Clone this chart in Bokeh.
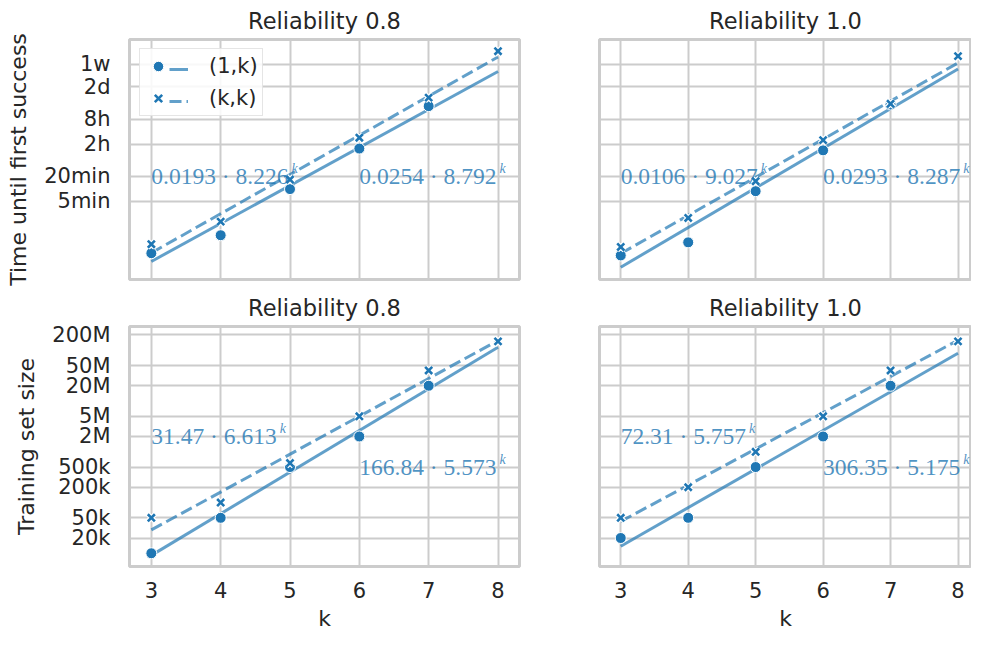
from bokeh.plotting import figure
from bokeh.layouts import gridplot
from bokeh.models import FixedTicker, Legend, LegendItem, Range1d
from bokeh.core.properties import value
from bokeh.embed import file_html
from bokeh.resources import INLINE

# ---------------- data ----------------
k_ticks = [3, 4, 5, 6, 7, 8]
k_one = [3, 4, 5, 6, 7]          # (1,k) experiments
k_all = [3, 4, 5, 6, 7, 8]       # (k,k) experiments
k_fit = [3, 8]

titles = ["Reliability 0.8", "Reliability 1.0"]

# time until first success (seconds)
time_1k_r08 = [17, 46, 595, 5640, 59300]
time_kk_r08 = [28, 98, 1010, 10300, 95000, 1250000]
time_1k_r10 = [15, 31, 530, 5100, 65000]
time_kk_r10 = [24, 120, 920, 9000, 67500, 950000]

# training set size
size_1k_r08 = [10000, 50000, 500000, 2000000, 20000000]
size_kk_r08 = [50000, 100000, 600000, 5000000, 40000000, 150000000]
size_1k_r10 = [20000, 50000, 500000, 2000000, 20000000]
size_kk_r10 = [50000, 200000, 1000000, 5000000, 40000000, 150000000]

# fitted exponentials a * b^k  (solid = (1,k), dashed = (k,k))
time_fit_1k_a = [0.0193, 0.0106]
time_fit_1k_b = [8.226, 9.027]
time_fit_kk_a = [0.0254, 0.0293]
time_fit_kk_b = [8.792, 8.287]
size_fit_1k_a = [31.47, 72.31]
size_fit_1k_b = [6.613, 5.757]
size_fit_kk_a = [166.84, 306.35]
size_fit_kk_b = [5.573, 5.175]

time_ticks = [300, 1200, 7200, 28800, 172800, 604800]
time_tick_labels = ["5min", "20min", "2h", "8h", "2d", "1w"]
size_ticks = [2e4, 5e4, 2e5, 5e5, 2e6, 5e6, 2e7, 5e7, 2e8]
size_tick_labels = ["20k", "50k", "200k", "500k", "2M", "5M", "20M", "50M", "200M"]

# ---------------- style ----------------
BLUE = "#1f77b4"
GRID = "#cccccc"
TXT = "#262626"
SANS = "DejaVu Sans"
SERIF = "Liberation Serif"
FORM_SIZE = 23.5
SUP_SIZE = 14


def serif_width(s, size):
    w = 0.0
    for c in s:
        w += 0.5 if c.isdigit() else 0.25
    return w * size


def make_panel(col, row, y_range, ticks, tick_labels, ylabel,
               x1, y1, xk, yk, fa1, fb1, fak, fbk, lab_y1, lab_yk):
    left = col == 0
    bottom = row == 1
    width = 523 if left else 448
    height = 346 if bottom else 287
    p = figure(width=width, height=height, y_axis_type="log",
               x_range=Range1d(2.685, 8.31 if left else 8.2),
               y_range=Range1d(*y_range),
               output_backend="svg", toolbar_location=None,
               min_border_left=129 if left else 76,
               min_border_right=4 if left else 0,
               min_border_top=38,
               min_border_bottom=67 if bottom else 8,
               background_fill_color="white", border_fill_color="white")
    p.title.text = titles[col]
    p.title.text_font = SANS
    p.title.text_font_size = "22.5px"
    p.title.text_font_style = "normal"
    p.title.text_color = TXT
    p.title.align = "center"
    p.title.standoff = 11
    p.outline_line_color = GRID
    p.outline_line_width = 3

    xt = FixedTicker(ticks=k_ticks)
    yt = FixedTicker(ticks=ticks)
    p.xaxis.ticker = xt
    p.yaxis.ticker = yt
    p.xgrid.ticker = xt
    p.ygrid.ticker = yt
    for g in (p.xgrid, p.ygrid):
        g.grid_line_color = GRID
        g.grid_line_width = 2
    for ax in (p.xaxis, p.yaxis):
        ax.axis_line_color = None
        ax.major_tick_line_color = None
        ax.minor_tick_line_color = None
        ax.major_tick_out = 0
        ax.major_tick_in = 0
        ax.minor_tick_out = 0
        ax.minor_tick_in = 0
        ax.major_label_text_font = SANS
        ax.major_label_text_font_size = "21px"
        ax.major_label_text_color = TXT
        ax.axis_label_text_font = SANS
        ax.axis_label_text_font_size = "22px"
        ax.axis_label_text_font_style = "normal"
        ax.axis_label_text_color = TXT
    p.yaxis.major_label_overrides = {t: l for t, l in zip(ticks, tick_labels)}
    p.yaxis.major_label_standoff = 19
    p.yaxis.axis_label_standoff = 10
    p.xaxis.major_label_standoff = 15
    p.xaxis.axis_label_standoff = 5
    if left:
        p.yaxis.axis_label = ylabel
    else:
        p.yaxis.visible = False
    if bottom:
        p.xaxis.axis_label = "k"
    else:
        p.xaxis.visible = False

    # fit lines
    l1 = p.line(k_fit, [fa1 * fb1 ** k for k in k_fit], line_color=BLUE,
                line_alpha=0.7, line_width=3)
    lk = p.line(k_fit, [fak * fbk ** k for k in k_fit], line_color=BLUE,
                line_alpha=0.7, line_width=3, line_dash="12 5")
    # markers
    d1 = p.scatter(x1, y1, marker="circle", size=11, fill_color=BLUE,
                   line_color="white", line_width=1)
    p.scatter(xk, yk, marker="x", size=10, line_color="white", line_width=5)
    dk = p.scatter(xk, yk, marker="x", size=10, line_color=BLUE, line_width=2.6)

    # formula annotations
    for kx, ly, a, b in ((3, lab_y1, fa1, fb1), (6, lab_yk, fak, fbk)):
        s = f"{a} · {b}"
        p.text([kx], [ly], text=[s], text_font=value(SERIF),
               text_font_size=f"{FORM_SIZE}px", text_color=BLUE, text_alpha=0.8,
               text_align="left", text_baseline="alphabetic")
        p.text([kx], [ly], text=["k"], text_font=value(SERIF),
               text_font_size=f"{SUP_SIZE}px", text_font_style="italic",
               text_color=BLUE, text_alpha=0.8, text_align="left",
               text_baseline="alphabetic",
               x_offset=serif_width(s, FORM_SIZE) + 5, y_offset=-8)

    if col == 0 and row == 0:
        leg_a = Legend(items=[LegendItem(label="(1,k)", renderers=[d1]),
                              LegendItem(label="(k,k)", renderers=[dk])],
                       location=(10, 163), orientation="vertical",
                       padding=4, margin=0, spacing=6,
                       glyph_width=28, glyph_height=26, label_height=26,
                       label_standoff=37,
                       label_text_font=SANS, label_text_font_size="21px",
                       label_text_color=TXT,
                       border_line_color=GRID, border_line_width=1.5,
                       background_fill_color="white", background_fill_alpha=0.85)
        leg_b = Legend(items=[LegendItem(label=" ", renderers=[l1]),
                              LegendItem(label=" ", renderers=[lk])],
                       location=(40, 165), orientation="vertical",
                       padding=4, margin=0, spacing=6,
                       glyph_width=19, glyph_height=26, label_height=26,
                       label_standoff=2,
                       label_text_font=SANS, label_text_font_size="21px",
                       border_line_color=None, background_fill_alpha=0)
        p.add_layout(leg_a, "center")
        p.add_layout(leg_b, "center")
    return p


top_range = (3.95, 2.39e6)
bot_range = (5490, 2.94e8)

p1 = make_panel(0, 0, top_range, time_ticks, time_tick_labels, "Time until first success",
                k_one, time_1k_r08, k_all, time_kk_r08,
                time_fit_1k_a[0], time_fit_1k_b[0], time_fit_kk_a[0], time_fit_kk_b[0],
                1200, 1200)
p2 = make_panel(1, 0, top_range, time_ticks, time_tick_labels, "",
                k_one, time_1k_r10, k_all, time_kk_r10,
                time_fit_1k_a[1], time_fit_1k_b[1], time_fit_kk_a[1], time_fit_kk_b[1],
                1200, 1200)
p3 = make_panel(0, 1, bot_range, size_ticks, size_tick_labels, "Training set size",
                k_one, size_1k_r08, k_all, size_kk_r08,
                size_fit_1k_a[0], size_fit_1k_b[0], size_fit_kk_a[0], size_fit_kk_b[0],
                2e6, 5e5)
p4 = make_panel(1, 1, bot_range, size_ticks, size_tick_labels, "",
                k_one, size_1k_r10, k_all, size_kk_r10,
                size_fit_1k_a[1], size_fit_1k_b[1], size_fit_kk_a[1], size_fit_kk_b[1],
                2e6, 5e5)

grid = gridplot([[p1, p2], [p3, p4]], toolbar_location=None)

open("out.html", "w").write(file_html(grid, INLINE))
